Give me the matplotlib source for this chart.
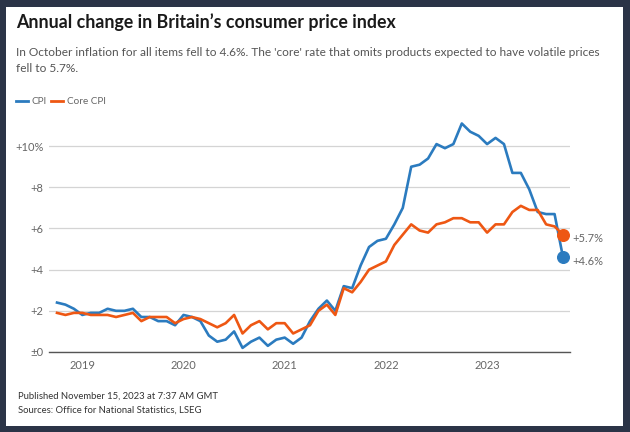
import numpy as np
import matplotlib
matplotlib.use('Agg')
import matplotlib.pyplot as plt
from matplotlib.patches import Rectangle

plt.rcParams['font.family'] = ['Lato', 'DejaVu Sans']

# monthly data, Oct 2018 .. Oct 2023
cpi = [2.4, 2.3, 2.1,
       1.8, 1.9, 1.9, 2.1, 2.0, 2.0, 2.1, 1.7, 1.7, 1.5, 1.5, 1.3,
       1.8, 1.7, 1.5, 0.8, 0.5, 0.6, 1.0, 0.2, 0.5, 0.7, 0.3, 0.6,
       0.7, 0.4, 0.7, 1.5, 2.1, 2.5, 2.0, 3.2, 3.1, 4.2, 5.1, 5.4,
       5.5, 6.2, 7.0, 9.0, 9.1, 9.4, 10.1, 9.9, 10.1, 11.1, 10.7, 10.5,
       10.1, 10.4, 10.1, 8.7, 8.7, 7.9, 6.8, 6.7, 6.7, 4.6]
core = [1.9, 1.8, 1.9,
        1.9, 1.8, 1.8, 1.8, 1.7, 1.8, 1.9, 1.5, 1.7, 1.7, 1.7, 1.4,
        1.6, 1.7, 1.6, 1.4, 1.2, 1.4, 1.8, 0.9, 1.3, 1.5, 1.1, 1.4,
        1.4, 0.9, 1.1, 1.3, 2.0, 2.3, 1.8, 3.1, 2.9, 3.4, 4.0, 4.2,
        4.4, 5.2, 5.7, 6.2, 5.9, 5.8, 6.2, 6.3, 6.5, 6.5, 6.3, 6.3,
        5.8, 6.2, 6.2, 6.8, 7.1, 6.9, 6.9, 6.2, 6.1, 5.7]
years = ['2019', '2020', '2021', '2022', '2023']
year_pos = [3, 15, 27, 39, 51]   # January of each year
yticks = [0, 2, 4, 6, 8, 10]
ylabels = ['±0', '+2', '+4', '+6', '+8', '+10%']

blue = '#2b7bbf'
orange = '#ee5713'
grey = '#666666'

fig = plt.figure(figsize=(6.3, 4.32), dpi=100, facecolor='#2b3447')
fig.patches.append(Rectangle((6/630, 1-426/432), 617/630, 419/432,
                             transform=fig.transFigure, facecolor='white',
                             edgecolor='none', zorder=-10))

ax = fig.add_axes([49/630, 1-352/432, 521/630, 232/432])
ax.set_facecolor('none')
x = np.arange(len(cpi))
ax.plot(x, cpi, color=blue, lw=1.9, zorder=3)
ax.plot(x, core, color=orange, lw=1.9, zorder=3)
ax.scatter([x[-1]], [core[-1]], s=70, color=orange, zorder=4, clip_on=False)
ax.scatter([x[-1]], [cpi[-1]], s=70, color=blue, zorder=5, clip_on=False)
ax.annotate('+%.1f%%' % core[-1], (x[-1], core[-1]), xytext=(7, -3),
            textcoords='offset points', va='center', ha='left',
            fontsize=8, color=grey, annotation_clip=False)
ax.annotate('+%.1f%%' % cpi[-1], (x[-1], cpi[-1]), xytext=(7, -3),
            textcoords='offset points', va='center', ha='left',
            fontsize=8, color=grey, annotation_clip=False)

ax.set_xlim(-0.95, 60.83)
ax.set_ylim(0, 11.27)
ax.set_yticks(yticks)
ax.set_yticklabels(ylabels)
ax.set_xticks(year_pos)
ax.set_xticklabels(years)
ax.tick_params(axis='both', length=0, labelsize=8, labelcolor=grey)
ax.tick_params(axis='y', pad=4)
ax.tick_params(axis='x', pad=6)
ax.grid(axis='y', color='#d4d4d4', lw=0.9)
for s in ['top', 'right', 'left']:
    ax.spines[s].set_visible(False)
ax.spines['bottom'].set_color('#555555')
ax.spines['bottom'].set_linewidth(1.0)
ax.set_axisbelow(True)

fig.text(16/630, 1-22/432, 'Annual change in Britain\u2019s consumer price index',
         fontsize=12.8, fontweight='bold', color='#1a1a1a', va='center')
fig.text(16/630, 1-47/432,
         "In October inflation for all items fell to 4.6%. The 'core' rate that omits products expected to have volatile prices\nfell to 5.7%.",
         fontsize=8.6, color='#555555', va='top', linespacing=1.6)

# legend
fig.lines.append(plt.Line2D([16/630, 28/630], [1-101/432]*2, color=blue, lw=2,
                            transform=fig.transFigure))
fig.text(32/630, 1-101/432, 'CPI', fontsize=7.2, color=grey, va='center')
fig.lines.append(plt.Line2D([51/630, 63/630], [1-101/432]*2, color=orange, lw=2,
                            transform=fig.transFigure))
fig.text(67/630, 1-101/432, 'Core CPI', fontsize=7.2, color=grey, va='center')

fig.text(18/630, 1-396/432, 'Published November 15, 2023 at 7:37 AM GMT',
         fontsize=6.8, color='#333333', va='center')
fig.text(18/630, 1-410/432, 'Sources: Office for National Statistics, LSEG',
         fontsize=6.8, color='#333333', va='center')

fig.savefig('out.png', dpi=100, facecolor=fig.get_facecolor())
